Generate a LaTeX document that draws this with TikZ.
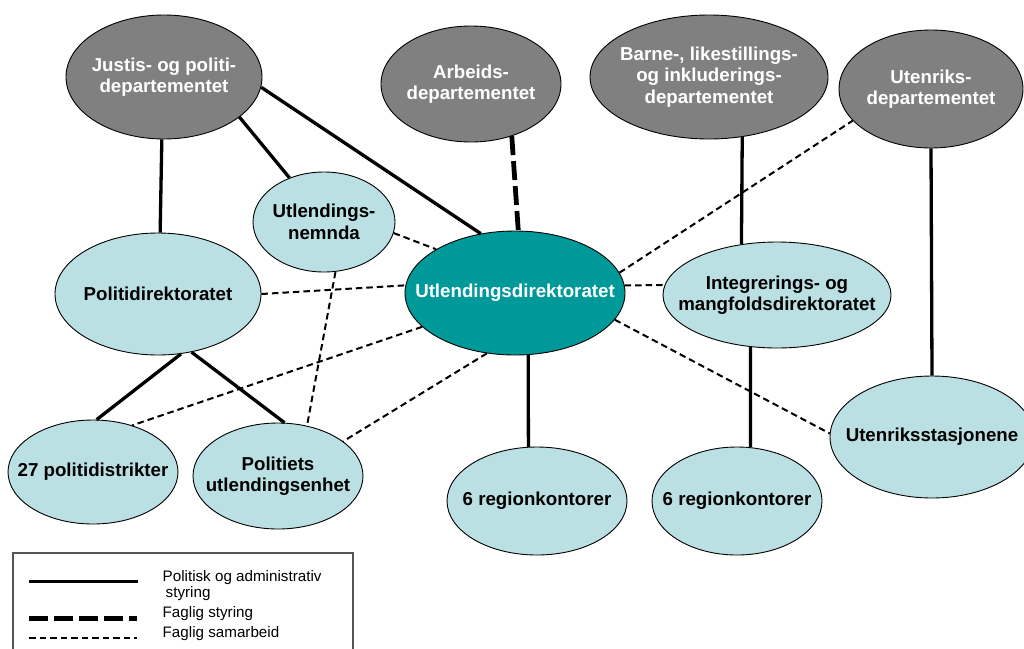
\documentclass[tikz,border=0pt]{standalone}
\usepackage{fontspec}
\setmainfont{Liberation Sans}
\usetikzlibrary{shapes.geometric}
\definecolor{deptgrey}{HTML}{808080}
\definecolor{paleteal}{HTML}{BBE0E3}
\definecolor{uditeal}{HTML}{009999}
\definecolor{legframe}{HTML}{555555}
\begin{document}
\begin{tikzpicture}[x=1pt,y=-1pt,
  oval/.style={ellipse, draw=black, line width=0.9pt, inner sep=0pt},
  deptoval/.style={oval, fill=deptgrey},
  diroval/.style={oval, fill=paleteal},
  udioval/.style={oval, fill=uditeal},
  wtxt/.style={text=white, font=\fontsize{18.7}{21.5}\selectfont\bfseries, align=center, inner sep=0pt},
  btxt/.style={text=black, font=\fontsize{18.7}{21.5}\selectfont\bfseries, align=center, inner sep=0pt},
  legtxt/.style={text=black, font=\fontsize{15.2}{17}\selectfont, inner sep=0pt, anchor=base west},
  solidline/.style={line width=3.3pt},
  thickdash/.style={line width=4.8pt, dash pattern=on 19pt off 6pt},
  thindash/.style={line width=2pt, dash pattern=on 6.5pt off 4pt},
]
\useasboundingbox (0,0) rectangle (1024,648);
\fill[white] (0,0) rectangle (1024,648);

% ministries
\node[deptoval, minimum width=196pt, minimum height=124pt,
  label={[wtxt]center:{Justis- og politi-\\departementet}}] (justis) at (164,77) {};
\node[deptoval, minimum width=180pt, minimum height=116pt,
  label={[wtxt]center:{Arbeids-\\departementet}}] (arb) at (471,84) {};
\node[deptoval, minimum width=238pt, minimum height=124pt,
  label={[wtxt]center:{Barne-, likestillings-\\og inkluderings-\\departementet}}] (barne) at (709,77) {};
\node[deptoval, minimum width=184pt, minimum height=118pt,
  label={[wtxt]center:{Utenriks-\\departementet}}] (utenr) at (931,89) {};

% directorates
\node[diroval, minimum width=142pt, minimum height=100pt,
  label={[btxt]center:{Utlendings-\\nemnda}}] (nemnda) at (324,222) {};
\node[diroval, minimum width=206pt, minimum height=122pt,
  label={[btxt]center:{Politidirektoratet}}] (pd) at (158,294) {};
\node[udioval, minimum width=220pt, minimum height=124pt,
  label={[wtxt]center:{Utlendingsdirektoratet}}] (udi) at (515,293) {};
\node[diroval, minimum width=228pt, minimum height=106pt,
  label={[btxt]center:{Integrerings- og\\mangfoldsdirektoratet}}] (imdi) at (777,295) {};
\node[diroval, minimum width=204pt, minimum height=122pt,
  label={[btxt]center:{Utenriksstasjonene}}] (stas) at (932,437) {};
\node[diroval, minimum width=170pt, minimum height=104pt,
  label={[btxt]center:{27 politidistrikter}}] (pdist) at (93,472) {};
\node[diroval, minimum width=170pt, minimum height=106pt,
  label={[btxt]center:{Politiets\\utlendingsenhet}}] (pu) at (278,476) {};
\node[diroval, minimum width=180pt, minimum height=108pt,
  label={[btxt]center:{6 regionkontorer}}] (reg1) at (537,501) {};
\node[diroval, minimum width=170pt, minimum height=108pt,
  label={[btxt]center:{6 regionkontorer}}] (reg2) at (737,501) {};

% political and administrative steering
\draw[solidline] (justis.-92) -- (pd.88);
\draw[solidline] (justis.-28) -- (nemnda.128);
\draw[solidline] (justis.-6) -- (udi.120);
\draw[solidline] (pd.-69) -- (pdist.86);
\draw[solidline] (pd.-60) -- (pu.83);
\draw[solidline] (udi.-78) -- (reg1.99.5);
\draw[solidline] (barne.-61.8) -- (imdi.125.6);
\draw[solidline] (imdi.-117.7) -- (reg2.76.3);
\draw[solidline] (utenr.-90) -- (stas.90);

% professional steering
\draw[thickdash] (arb.-52) -- (udi.87);

% professional cooperation
\draw[thindash] (nemnda.-9) -- (udi.151.5);
\draw[thindash] (pd.0) -- (udi.176);
\draw[thindash] (udi.4.2) -- (imdi.175);
\draw[thindash] (udi.11.3) -- (utenr.-158);
\draw[thindash] (udi.-15.4) -- (stas.178);
\draw[thindash] (udi.200.2) -- (pdist.50.2);
\draw[thindash] (udi.-115) -- (pu.28.3);
\draw[thindash] (nemnda.-77.6) -- (pu.60);

% legend
\draw[legframe, line width=1.5pt] (13,662) -- (13,553) -- (353,553) -- (353,662);
\coordinate (l1a) at (29,581.7); \coordinate (l1b) at (138,581.7);
\coordinate (l2a) at (29,618.3); \coordinate (l2b) at (137,618.3);
\coordinate (l3a) at (29,638.3); \coordinate (l3b) at (137,638.3);
\draw[solidline] (l1a) -- (l1b);
\draw[thickdash] (l2a) -- (l2b);
\draw[thindash] (l3a) -- (l3b);
\node[legtxt] (lt1) at (162.5,581.7) {Politisk og administrativ};
\node[legtxt] (lt2) at (165.5,597) {styring};
\node[legtxt] (lt3) at (162.5,617) {Faglig styring};
\node[legtxt] (lt4) at (162.5,637) {Faglig samarbeid};
\end{tikzpicture}
\end{document}
